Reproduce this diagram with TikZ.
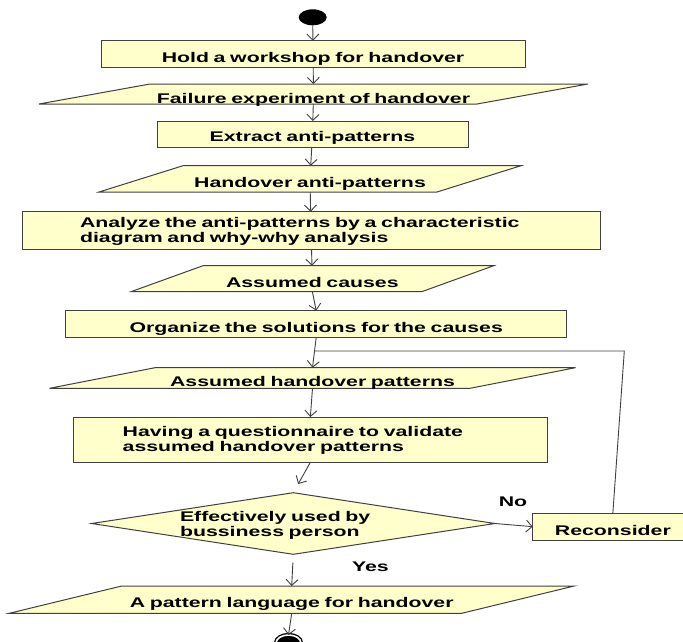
\documentclass[tikz,border=0pt]{standalone}
\usepackage{fontspec}
\newfontfamily\flowfont[FakeStretch=1.52]{Liberation Sans}
\usetikzlibrary{shapes.geometric,arrows.meta,calc}
\definecolor{actfill}{HTML}{FFFFCC}
\definecolor{actline}{HTML}{404040}
\tikzstyle{every node}=[font=\flowfont\bfseries\fontsize{14}{15}\selectfont,inner sep=0pt,outer sep=0pt]
\tikzstyle{action}=[draw=actline,fill=actfill,line width=1pt,rectangle,align=center]
\tikzstyle{data}=[draw=actline,fill=actfill,line width=1pt,trapezium,align=center]
\tikzstyle{decision}=[draw=actline,fill=actfill,line width=1pt,diamond]
\tikzstyle{flow}=[draw=actline,line width=0.9pt,-{Straight Barb[length=6pt,width=12pt]}]
\tikzstyle{loop}=[draw=actline,line width=0.9pt]

\begin{document}
\begin{tikzpicture}[x=1pt,y=-1pt]
  \useasboundingbox (0,0) rectangle (683,641);
  \node[ellipse,fill=black,minimum width=28pt,minimum height=16pt] (start) at (312.7,17.3) {};
  \node[action,text width=424pt,text height=21.6pt,text depth=5pt] (workshop) at (313,54) {Hold a workshop for handover};
  \node[data,trapezium left angle=10.21,trapezium right angle=169.79,text width=327pt,text height=19pt,text depth=1pt] (failure) at (313.5,94) {Failure experiment of handover};
  \node[action,text width=311pt,text height=20.7pt,text depth=5.3pt] (extract) at (312.5,134) {Extract anti-patterns};
  \node[data,trapezium left angle=17.39,trapezium right angle=162.61,text width=254pt,text height=21.3pt,text depth=5pt] (antipatterns) at (310,178.85) {Handover anti-patterns};
  \node[action,align=left,text width=462pt,inner xsep=58pt,text height=16pt,text depth=21.3pt] (analyze) at (311,230.35) {Analyze the anti-patterns by a characteristic\\diagram and why-why analysis};
  \node[data,trapezium left angle=19.85,trapezium right angle=160.15,text width=218.7pt,text height=21.3pt,text depth=4.7pt] (causes) at (312.35,278.7) {Assumed causes};
  \node[action,text width=501pt,text height=21.6pt,text depth=5pt] (organize) at (316.2,324) {Organize the solutions for the causes};
  \node[data,trapezium left angle=11.05,trapezium right angle=168.95,text width=315pt,text height=18.3pt,text depth=2.3pt] (patterns) at (312.5,378) {Assumed handover patterns};
  \node[action,align=left,text width=375.3pt,inner xsep=49.7pt,text height=19.7pt,text depth=25.6pt] (questionnaire) at (310.35,439.65) {Having a questionnaire to validate\\assumed handover patterns};
  \node[decision,minimum width=403.3pt,minimum height=61.6pt] (check) at (293.3,523.5) {};
  \node[align=left,text width=200pt,anchor=north west,text height=10pt] (checktext) at (180,511.7) {Effectively used by\\bussiness person};
  \node[action,text width=160.3pt,text height=21.7pt,text depth=5pt] (reconsider) at (612.85,526.65) {Reconsider};
  \node[data,trapezium left angle=13.64,trapezium right angle=166.36,text width=340pt,text height=21.7pt,text depth=5.6pt] (language) at (291.7,599.65) {A pattern language for handover};
  \node[ellipse,draw=black,line width=1.3pt,fill=black,double=white,double distance=1.6pt,minimum width=25pt,minimum height=16pt] (finish) at (288.5,643) {};
  \node[anchor=base] (no) at (513,506) {No};
  \node[anchor=base] (yes) at (370.4,571.7) {Yes};

  \coordinate (loopcorner) at (624.3,351);
  \coordinate (loopjoin) at ($(organize.south)!0.45!(patterns.north)$);

  \draw[flow] (start) -- (workshop);
  \draw[flow] (workshop) -- (failure);
  \draw[flow] (failure) -- (extract);
  \draw[flow] (extract) -- (antipatterns);
  \draw[flow] (antipatterns) -- (analyze);
  \draw[flow] (analyze) -- (causes);
  \draw[flow] (causes.south) -- (organize.north);
  \draw[flow] (organize.south) -- (patterns.north);
  \draw[flow] (patterns.south) -- (questionnaire.north);
  \draw[flow,shorten >=10pt] (questionnaire.south) -- (check.north);
  \draw[flow] (check.east) -- (reconsider.west);
  \draw[flow,shorten <=8.4pt] (check.south) -- (language.north);
  \draw[flow] (language.south) -- (finish.north);
  \draw[loop] (reconsider.north) -- (loopcorner) -- (loopjoin);
\end{tikzpicture}
\end{document}
